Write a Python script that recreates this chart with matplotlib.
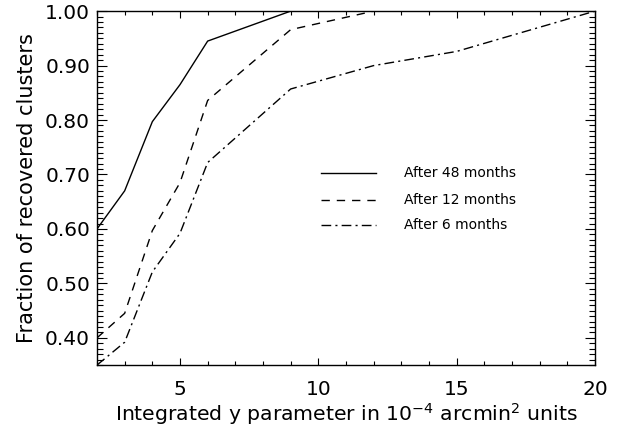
import matplotlib
matplotlib.use('Agg')
from matplotlib import pyplot as plt
from matplotlib.ticker import MultipleLocator, FormatStrFormatter

# integrated y parameter (10^-4 arcmin^2)
x_48 = [2, 3, 4, 5, 6, 9, 20]
frac_48 = [0.60, 0.67, 0.797, 0.865, 0.945, 1.0, 1.0]

x_12 = [2, 3, 4, 5, 6, 9, 12, 20]
frac_12 = [0.40, 0.445, 0.597, 0.685, 0.836, 0.966, 1.0, 1.0]

x_6 = [2, 3, 4, 5, 6, 9, 12, 15, 20]
frac_6 = [0.35, 0.392, 0.521, 0.592, 0.722, 0.857, 0.90, 0.926, 1.0]

labels = ['After 48 months', 'After 12 months', 'After 6 months']

plt.rcParams['font.family'] = ['DejaVu Sans']
plt.rcParams['mathtext.fontset'] = 'dejavusans'

fig = plt.figure(figsize=(6.23, 4.28), dpi=100)
ax = fig.add_axes([0.1557, 0.147, 0.7993, 0.827])

ax.plot(x_48, frac_48, color='black', lw=1.0, ls='-')
ax.plot(x_12, frac_12, color='black', lw=1.0, ls=(0, (6, 5)))
ax.plot(x_6, frac_6, color='black', lw=1.0, ls=(0, (7, 3, 1.5, 3)))

ax.set_xlim(2, 20)
ax.set_ylim(0.35, 1.0)
ax.xaxis.set_major_locator(MultipleLocator(5))
ax.xaxis.set_minor_locator(MultipleLocator(1))
ax.yaxis.set_major_locator(MultipleLocator(0.1))
ax.yaxis.set_minor_locator(MultipleLocator(0.01))
ax.yaxis.set_major_formatter(FormatStrFormatter('%.2f'))

ax.tick_params(axis='both', which='both', direction='in', top=True, right=True,
               width=0.8, colors='black', labelsize=14.5)
ax.tick_params(axis='x', which='major', length=5, pad=11)
ax.tick_params(axis='x', which='minor', length=3)
ax.tick_params(axis='y', which='major', length=7, pad=5)
ax.tick_params(axis='y', which='minor', length=4)
for s in ax.spines.values():
    s.set_linewidth(1.0)

ax.set_xlabel('Integrated y parameter in 10$^{-4}$ arcmin$^2$ units', fontsize=14.7, labelpad=1)
ax.set_ylabel('Fraction of recovered clusters', fontsize=15, labelpad=6)

# legend drawn by hand in data space
leg_styles = ['-', (0, (6, 5)), (0, (7, 3, 1.5, 3))]
leg_y = [0.703, 0.653, 0.607]
for ls, yy, lab in zip(leg_styles, leg_y, labels):
    ax.plot([10.1, 12.1], [yy, yy], color='black', lw=1.0, ls=ls)
    ax.text(13.1, yy, lab, fontsize=10, va='center', ha='left')

fig.savefig('out.png', dpi=100)
